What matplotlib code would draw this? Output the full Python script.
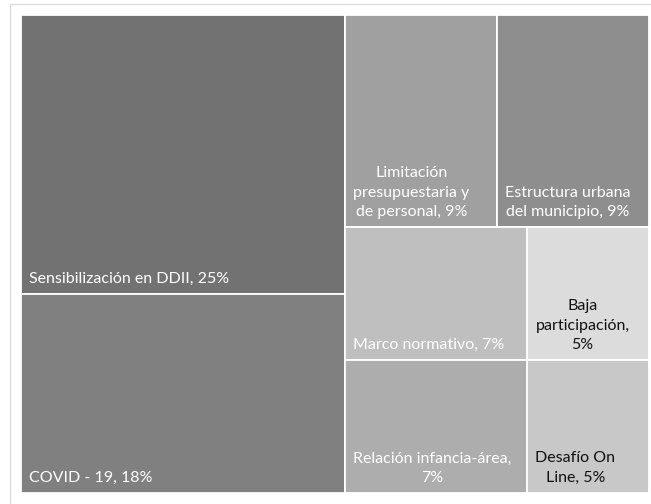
import matplotlib.pyplot as plt
from matplotlib.patches import Rectangle

plt.rcParams['font.family'] = ['Lato', 'DejaVu Sans']

# categories, biggest first (ties kept in the order they appear in the chart)
categories = ["Sensibilización en DDII", "COVID - 19",
              "Limitación presupuestaria y de personal", "Estructura urbana del municipio",
              "Marco normativo", "Relación infancia-área",
              "Baja participación", "Desafío On Line"]
# share of each tile, estimated from the tile areas
shares = [25.2, 18.0, 9.0, 9.0, 6.75, 6.75, 4.5, 4.5]
# label text as printed on the chart (wrapped like the original)
tile_labels = ["Sensibilización en DDII, 25%",
               "COVID - 19, 18%",
               "Limitación\npresupuestaria y\nde personal, 9%",
               "Estructura urbana\ndel municipio, 9%",
               "Marco normativo, 7%",
               "Relación infancia-área,\n7%",
               "Baja\nparticipación,\n5%",
               "Desafío On\nLine, 5%"]
tile_colors = ["#727272", "#808080", "#a0a0a0", "#8e8e8e",
               "#bfbfbf", "#adadad", "#dcdcdc", "#c8c8c8"]
text_colors = ["white", "white", "white", "white",
               "white", "white", "#111111", "#111111"]


#squarified treemap layout, y goes downwards
def worst(row, length):
    s = sum(row)
    return max(max(length**2 * r / s**2, s**2 / (length**2 * r)) for r in row)


def squarify(areas, x, y, w, h):
    rects = []
    areas = list(areas)
    while areas:
        length = min(w, h)
        row = [areas.pop(0)]
        while areas and worst(row + [areas[0]], length) <= worst(row, length):
            row.append(areas.pop(0))
        s = sum(row)
        if w >= h:  # stack a column on the left
            cw = s / h
            yy = y
            for r in row:
                rects.append((x, yy, cw, r / cw))
                yy += r / cw
            x += cw
            w -= cw
        else:  # stack a row on top
            rh = s / w
            xx = x
            for r in row:
                rects.append((xx, y, r / rh, rh))
                xx += r / rh
            y += rh
            h -= rh
    return rects


fig = plt.figure(figsize=(6.51, 5.04), dpi=100)

# light frame around the chart area (runs off the right/bottom edge)
fig.patches.append(Rectangle((10 / 651, -0.1), 1.0, 1 - 4 / 504 + 0.1,
                             transform=fig.transFigure, fill=False,
                             edgecolor="#dddddd", lw=1))

ax = fig.add_axes([21 / 651, 11 / 504, 628 / 651, 478 / 504])
W, H = 628, 478
ax.set_xlim(0, W)
ax.set_ylim(H, 0)
ax.axis("off")

total = sum(shares)
areas = [s / total * W * H for s in shares]
rects = squarify(areas, 0, 0, W, H)

for (x, y, w, h), lab, col, tcol in zip(rects, tile_labels, tile_colors, text_colors):
    ax.add_patch(Rectangle((x, y), w, h, facecolor=col, edgecolor="white", lw=1.3))
    ax.annotate(lab, (x, y + h), xytext=(8, 8), textcoords="offset pixels",
                ha="left", va="bottom", multialignment="center",
                color=tcol, fontsize=11.5, linespacing=1.5)

fig.savefig("out.png", dpi=100)
